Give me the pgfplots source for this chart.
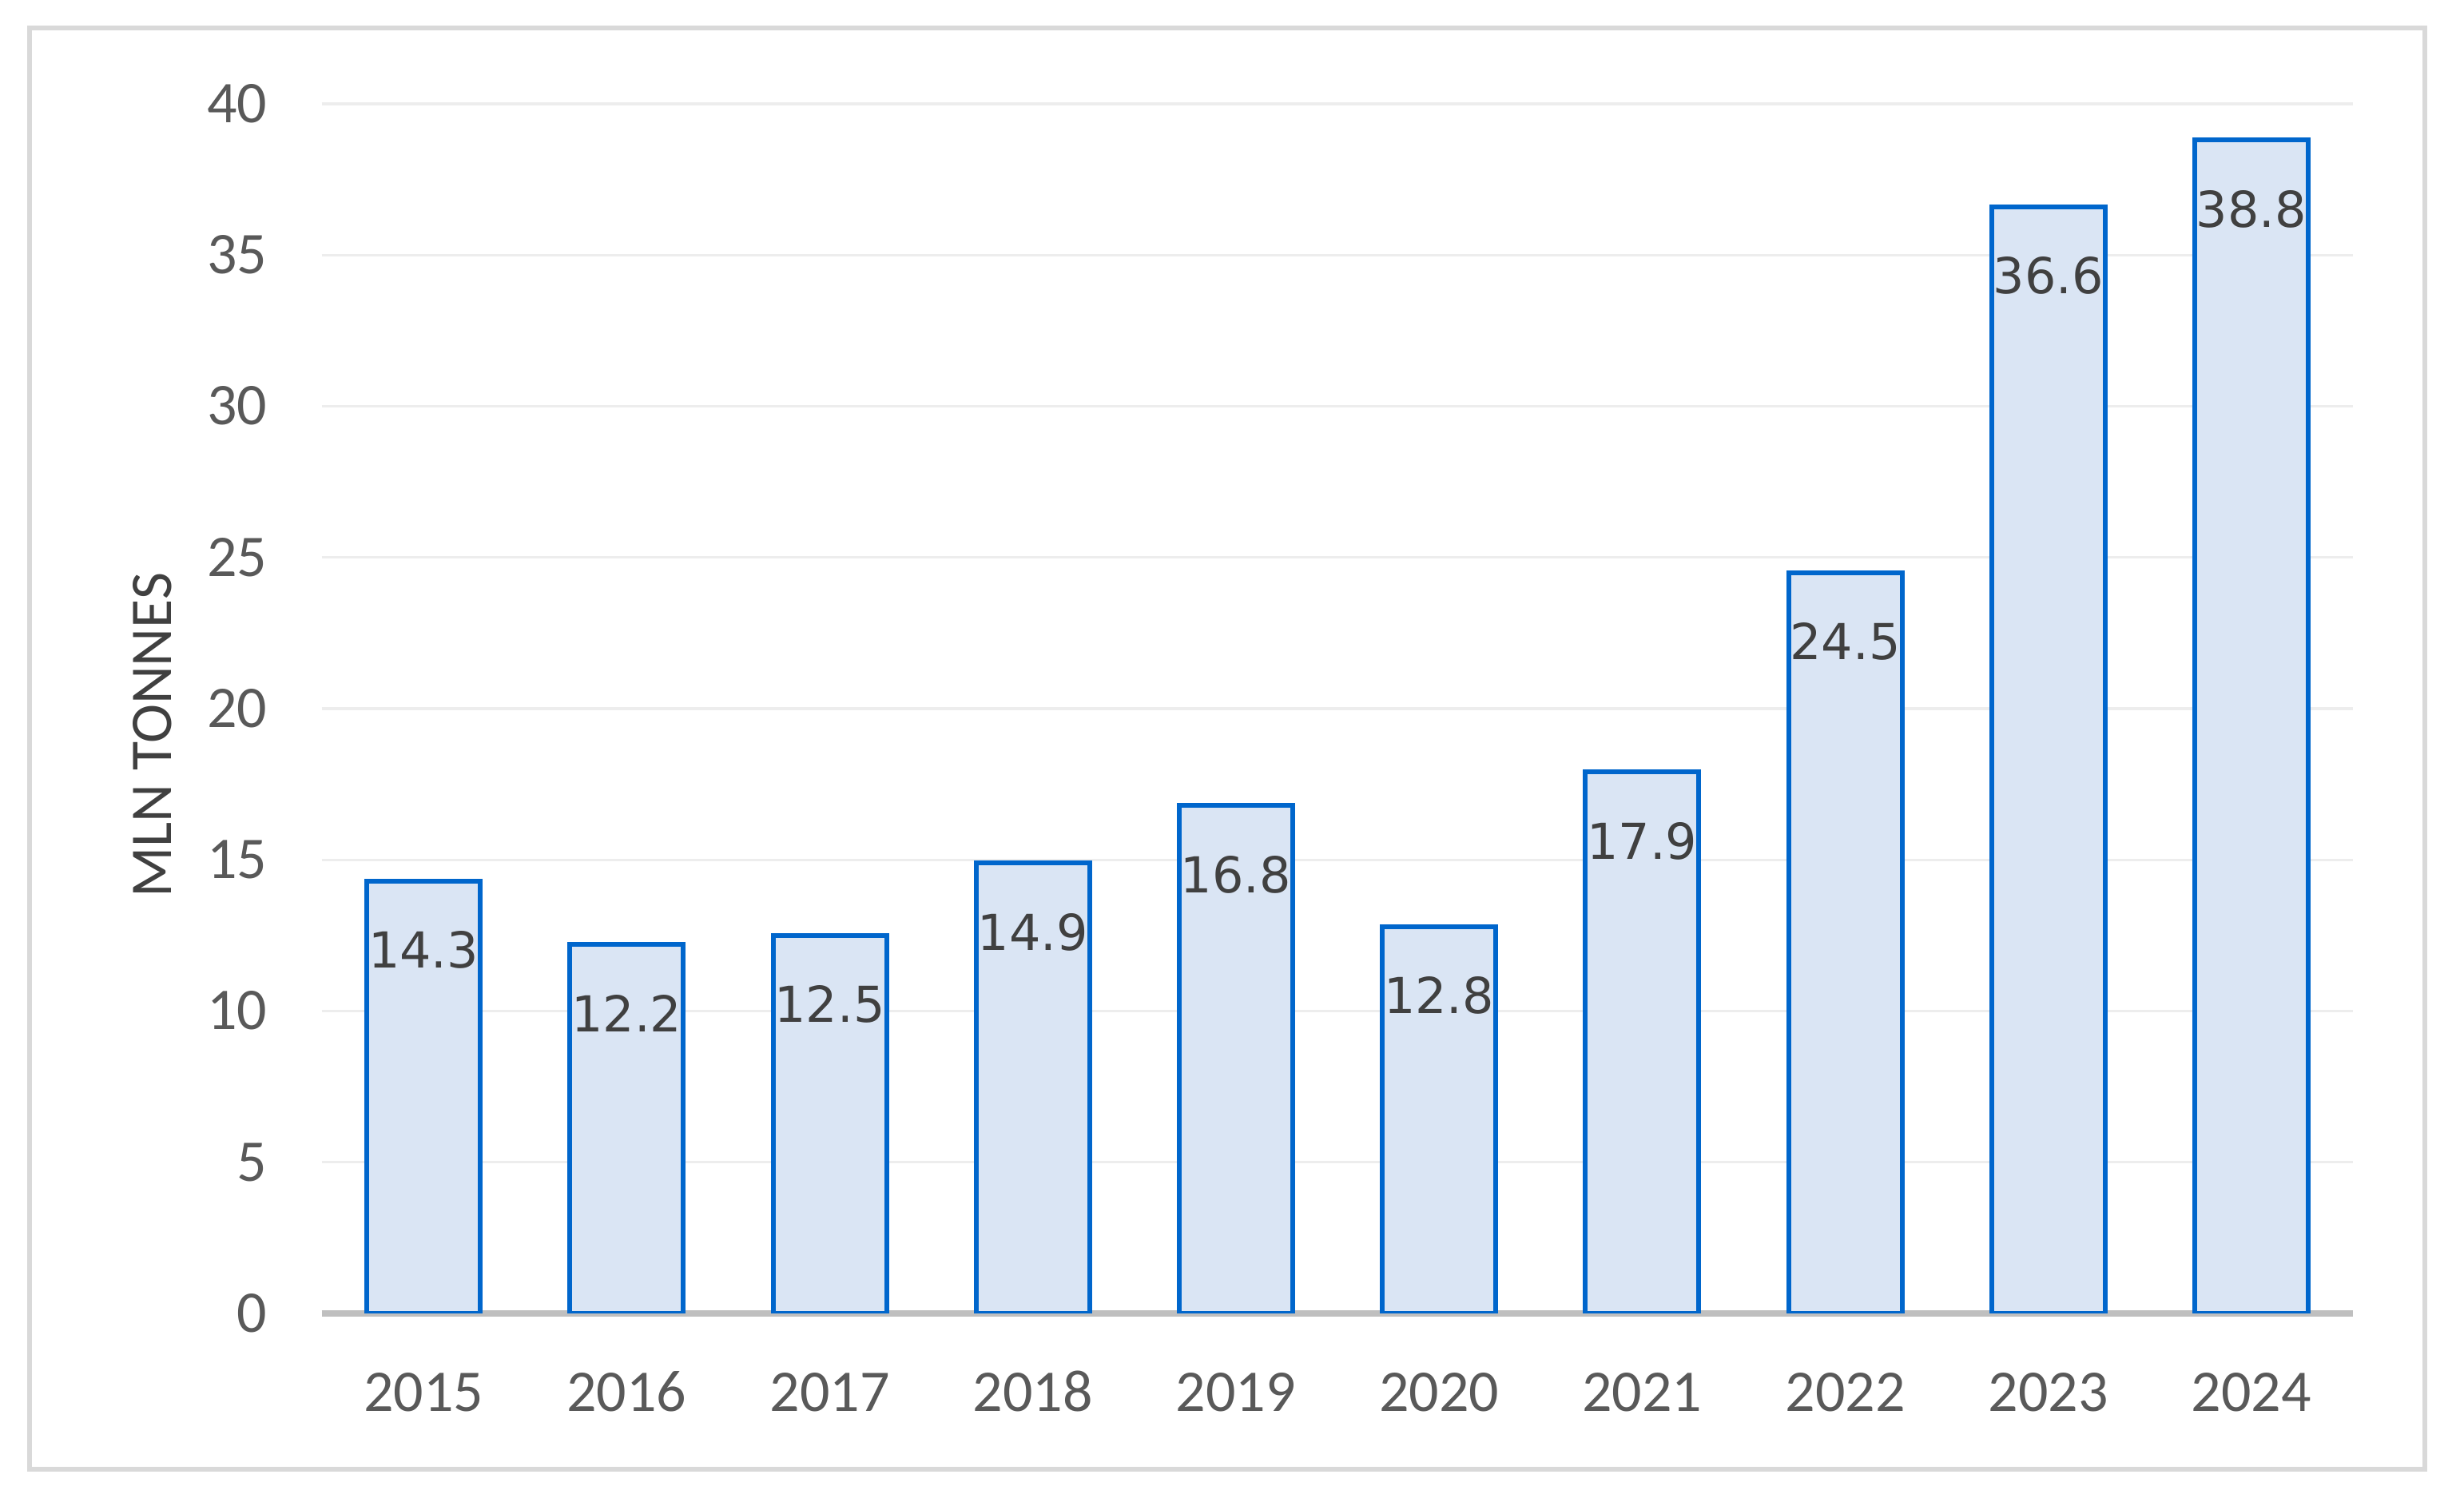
\documentclass[border=0pt]{standalone}
\usepackage{fontspec}
\setmainfont{Carlito}
\newfontfamily\dejavu{DejaVu Sans}
\usepackage{pgfplots}
\pgfplotsset{compat=1.18}
\definecolor{barfill}{HTML}{DAE5F4}
\definecolor{baredge}{HTML}{0066CC}
\definecolor{gridc}{HTML}{EDEDED}
\definecolor{basec}{HTML}{BFBFBF}
\definecolor{framec}{HTML}{D9D9D9}
\definecolor{tickc}{HTML}{595959}
\definecolor{labc}{HTML}{404040}
\begin{document}
\begin{tikzpicture}
\fill[white] (-100.75pt,-59pt) rectangle (670.25pt,411pt);
\draw[framec, line width=1.3pt] (-91.5pt,-48.75pt) rectangle (658pt,402.25pt);
\begin{axis}[
  width=635.5pt, height=378.5pt, scale only axis,
  /pgf/number format/assume math mode=true,
  xmin=-0.5, xmax=9.5, ymin=0, ymax=40,
  ytick={0,5,...,40},
  xtick={0,...,9},
  xticklabels={2015,2016,2017,2018,2019,2020,2021,2022,2023,2024},
  axis line style={draw=none},
  major tick length=0pt,
  ymajorgrids,
  grid style={gridc, line width=0.8pt},
  extra y ticks={0},
  extra y tick labels={},
  extra y tick style={grid style={basec, line width=2pt}},
  yticklabel style={font=\fontsize{18.5}{20}\selectfont, color=tickc, inner sep=0pt, anchor=base east, xshift=-17pt, yshift=-5.85pt},
  xticklabel style={font=\fontsize{18.5}{20}\selectfont, color=tickc, inner sep=0pt, anchor=base, yshift=-30.6pt},
  ylabel={MLN TONNES},
  every axis y label/.style={at={(axis description cs:-0.0834,0.478)}, rotate=90, anchor=center, font=\fontsize{18.5}{20}\selectfont, color=labc},
  ybar, bar width=35.5pt,
  point meta=explicit symbolic,
  nodes near coords,
  every node near coord/.append style={anchor=north, yshift=-15pt, inner sep=0pt, font=\dejavu\fontsize{15.5}{16}\selectfont, color=labc},
]
\addplot[fill=barfill, draw=baredge, line width=1.5pt] coordinates {
  (0,14.3) [14.3]
  (1,12.2) [12.2]
  (2,12.5) [12.5]
  (3,14.9) [14.9]
  (4,16.8) [16.8]
  (5,12.8) [12.8]
  (6,17.9) [17.9]
  (7,24.5) [24.5]
  (8,36.6) [36.6]
  (9,38.8) [38.8]
};
\end{axis}
\end{tikzpicture}
\end{document}
